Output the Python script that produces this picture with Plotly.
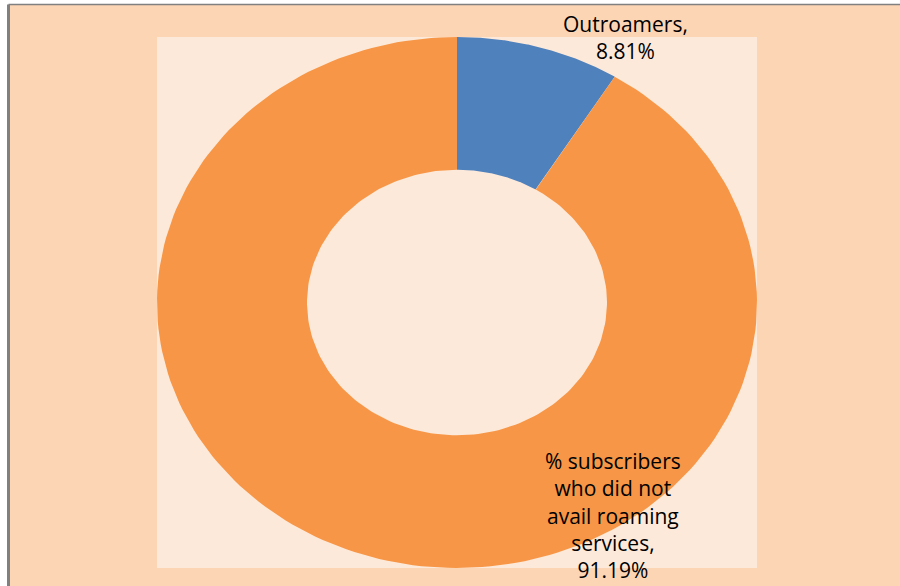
"""Donut chart: roaming subscribers share (Excel-style, stretched horizontally)."""
import numpy as np
import plotly.graph_objects as go

labels = ["Outroamers", "% subscribers who did not avail roaming services"]
values = [8.81, 91.19]
label_text = ["Outroamers,<br>8.81%",
              "% subscribers<br>who did not<br>avail roaming<br>services,<br>91.19%"]
label_pos = [(0.562, 1.0), (0.52, -0.804)]

_BLUE = "#4F81BD"
_ORANGE = "#F79646"
_PLOT_BG = "#FDE9D9"
_CHART_BG = "#FCD5B5"
_BORDER = "#808080"
colors = [_BLUE, _ORANGE]

HOLE = 0.5

fig = go.Figure()

# slices as filled polygons so the donut can stretch with the axes (like the source)
total = sum(values)
start = 0.0
for name, v, c in zip(labels, values, colors):
    a0 = start / total * 2 * np.pi
    a1 = (start + v) / total * 2 * np.pi
    t = np.linspace(a0, a1, 200)
    xo, yo = np.sin(t), np.cos(t)
    xi, yi = HOLE * np.sin(t[::-1]), HOLE * np.cos(t[::-1])
    fig.add_trace(go.Scatter(
        x=np.concatenate([xo, xi, xo[:1]]),
        y=np.concatenate([yo, yi, yo[:1]]),
        mode="lines", fill="toself", fillcolor=c,
        line=dict(width=0, color=c), name=name,
        showlegend=False, hoverinfo="name",
    ))
    start += v

for txt, (x, y) in zip(label_text, label_pos):
    fig.add_annotation(
        x=x, y=y, xref="x", yref="y", text=txt, showarrow=False,
        font=dict(family="Open Sans", size=21, color="#000000"),
        align="center", xanchor="center", yanchor="middle",
    )

L, R, T, B = 157, 143, 37, 18
W, H = 900, 586
pw, ph = W - L - R, H - T - B


def px_x(px):
    return (px - L) / pw


def px_y(py):
    return (H - B - py) / ph


# chart area frame (cropped excel chart) + light plot area
fig.add_shape(type="rect", xref="paper", yref="paper",
              x0=px_x(8.5), x1=px_x(W + 20), y0=px_y(H + 20), y1=px_y(4.5),
              fillcolor=_CHART_BG, line=dict(width=0), layer="below")
fig.add_shape(type="line", xref="paper", yref="paper",
              x0=px_x(8.5), x1=px_x(W + 20), y0=px_y(4.5), y1=px_y(4.5),
              line=dict(color=_BORDER, width=1.5), layer="below")
fig.add_shape(type="line", xref="paper", yref="paper",
              x0=px_x(8.5), x1=px_x(8.5), y0=px_y(H + 20), y1=px_y(4.5),
              line=dict(color=_BORDER, width=3), layer="below")
fig.add_shape(type="rect", xref="paper", yref="paper",
              x0=0, x1=1, y0=0, y1=1,
              fillcolor=_PLOT_BG, line=dict(width=0), layer="below")

fig.update_xaxes(range=[-1, 1], visible=False, fixedrange=True)
fig.update_yaxes(range=[-1, 1], visible=False, fixedrange=True)
fig.update_layout(
    width=W, height=H,
    margin=dict(l=L, r=R, t=T, b=B),
    paper_bgcolor="white", plot_bgcolor="rgba(0,0,0,0)",
    showlegend=False,
)

# drop the default 8px page margin so the figure sits at the window's corner
fig.write_html("out.html", config={"displayModeBar": False},
               post_script="document.body.style.margin='0';"
                           "document.body.style.overflow='hidden';")
